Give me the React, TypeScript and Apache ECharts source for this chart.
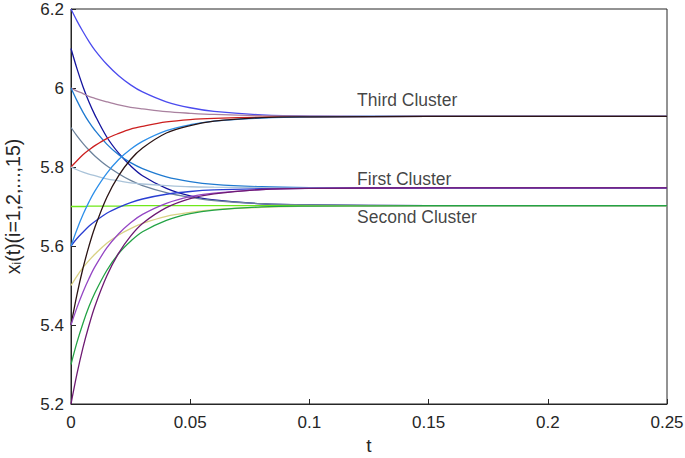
import React, { useEffect, useRef } from "react";
import * as echarts from "echarts";

const times = [0, 0.0025, 0.005, 0.0075, 0.01, 0.015, 0.02, 0.025, 0.03, 0.04, 0.05, 0.06, 0.08, 0.1, 0.15, 0.2, 0.25];

const xTicks = ["0", "0.05", "0.1", "0.15", "0.2", "0.25"];
const yTicks = ["5.2", "5.4", "5.6", "5.8", "6", "6.2"];

const agent1 = [6.2, 6.17, 6.143, 6.118, 6.096, 6.06, 6.031, 6.008, 5.99, 5.965, 5.95, 5.941, 5.932, 5.929, 5.928, 5.928, 5.928];
const agent2 = [6.1, 6.049, 6.004, 5.965, 5.932, 5.876, 5.835, 5.803, 5.778, 5.746, 5.727, 5.717, 5.707, 5.704, 5.702, 5.702, 5.702];
const agent3 = [6.0, 5.992, 5.986, 5.979, 5.974, 5.965, 5.957, 5.951, 5.947, 5.94, 5.936, 5.933, 5.93, 5.929, 5.928, 5.928, 5.928];
const agent4 = [6.0, 5.968, 5.939, 5.914, 5.893, 5.858, 5.831, 5.811, 5.796, 5.775, 5.763, 5.756, 5.75, 5.748, 5.747, 5.747, 5.747];
const agent5 = [5.9, 5.879, 5.86, 5.843, 5.828, 5.803, 5.783, 5.766, 5.753, 5.735, 5.723, 5.715, 5.707, 5.704, 5.702, 5.702, 5.702];
const agent6 = [5.8, 5.816, 5.831, 5.843, 5.854, 5.872, 5.885, 5.896, 5.903, 5.914, 5.92, 5.923, 5.926, 5.927, 5.928, 5.928, 5.928];
const agent7 = [5.8, 5.793, 5.787, 5.782, 5.778, 5.77, 5.765, 5.76, 5.757, 5.753, 5.75, 5.749, 5.748, 5.747, 5.747, 5.747, 5.747];
const agent8 = [5.7, 5.7, 5.7, 5.701, 5.701, 5.701, 5.701, 5.702, 5.702, 5.702, 5.702, 5.702, 5.702, 5.702, 5.702, 5.702, 5.702];
const agent9 = [5.6, 5.619, 5.635, 5.65, 5.662, 5.683, 5.698, 5.71, 5.719, 5.731, 5.738, 5.742, 5.745, 5.746, 5.747, 5.747, 5.747];
const agent10 = [5.6, 5.642, 5.679, 5.711, 5.739, 5.784, 5.819, 5.845, 5.865, 5.892, 5.907, 5.916, 5.924, 5.927, 5.928, 5.928, 5.928];
const agent11 = [5.5, 5.524, 5.545, 5.563, 5.579, 5.607, 5.628, 5.644, 5.657, 5.675, 5.685, 5.692, 5.698, 5.701, 5.702, 5.702, 5.702];
const agent12 = [5.4, 5.477, 5.543, 5.599, 5.647, 5.723, 5.778, 5.819, 5.848, 5.886, 5.905, 5.916, 5.925, 5.927, 5.928, 5.928, 5.928];
const agent13 = [5.4, 5.444, 5.483, 5.517, 5.547, 5.595, 5.631, 5.659, 5.68, 5.708, 5.725, 5.734, 5.743, 5.746, 5.747, 5.747, 5.747];
const agent14 = [5.3, 5.356, 5.404, 5.446, 5.481, 5.538, 5.581, 5.612, 5.636, 5.665, 5.682, 5.691, 5.699, 5.701, 5.702, 5.702, 5.702];
const agent15 = [5.2, 5.276, 5.342, 5.398, 5.447, 5.524, 5.582, 5.625, 5.657, 5.697, 5.72, 5.732, 5.743, 5.746, 5.747, 5.747, 5.747];

const agents = [agent1, agent2, agent3, agent4, agent5, agent6, agent7, agent8, agent9, agent10, agent11, agent12, agent13, agent14, agent15];
const agentColors = [
  "#4b4bee", "#14149e", "#a9819f", "#1f7ad0", "#6d839c",
  "#cc1f1f", "#aac3d9", "#6fe81a", "#2a3fd2", "#2d8fe9",
  "#d9d284", "#2b1414", "#9446c4", "#23a345", "#6e1a72",
];

const clusterLabels = ["Third Cluster", "First Cluster", "Second Cluster"];
const clusterLabelT = [0.12, 0.12, 0.12];
const clusterLabelY = [5.97, 5.77, 5.673];

const FONT = "Liberation Sans, Arial, Helvetica, sans-serif";
const INK = "#262626";

export default function App() {
  const ref = useRef<HTMLDivElement>(null);
  useEffect(() => {
    if (!ref.current) return;
    const chart = echarts.init(ref.current, undefined, { renderer: "svg" });
    const series: any[] = agents.map((vals, i) => ({
      type: "line",
      data: times.map((t, j) => [t, vals[j]]),
      showSymbol: false,
      smooth: 0.35,
      lineStyle: { color: agentColors[i], width: 1.3 },
      itemStyle: { color: agentColors[i] },
      z: 2,
    }));
    series.push({
      type: "scatter",
      symbolSize: 0,
      data: clusterLabels.map((name, i) => ({ value: [clusterLabelT[i], clusterLabelY[i]], name })),
      label: {
        show: true,
        position: "right",
        distance: 0,
        formatter: (p: any) => p.name,
        color: "#111",
        fontSize: 17.5,
        fontFamily: FONT,
      },
      z: 5,
    });
    chart.setOption({
      animation: false,
      grid: {
        left: 71,
        top: 9,
        right: 18,
        bottom: 54,
        containLabel: false,
        outerBoundsMode: "none",
        show: true,
        borderColor: INK,
        borderWidth: 1,
        backgroundColor: "#fff",
      },
      xAxis: {
        type: "value",
        min: 0,
        max: 0.25,
        interval: 0.05,
        name: "t",
        nameLocation: "middle",
        nameGap: 32,
        nameTextStyle: { fontSize: 19, color: INK, fontFamily: FONT },
        axisLine: { show: true, onZero: false, lineStyle: { color: INK } },
        axisTick: { show: true, inside: true, length: 5, lineStyle: { color: INK } },
        axisLabel: {
          fontSize: 17,
          color: INK,
          fontFamily: FONT,
          margin: 10,
          formatter: (v: number) => xTicks[Math.round(v / 0.05)] ?? "",
        },
        splitLine: { show: false },
      },
      yAxis: {
        type: "value",
        min: 5.2,
        max: 6.2,
        interval: 0.2,
        name: "{a|x}{s|i}{a|(t)(i=1,2,...,15)}",
        nameLocation: "middle",
        nameGap: 48,
        nameTextStyle: {
          color: INK,
          fontFamily: FONT,
          rich: {
            a: { fontSize: 19.5, fontFamily: FONT, color: INK },
            s: { fontSize: 12, fontFamily: FONT, color: INK, verticalAlign: "bottom", padding: [9, 0, 0, 0] },
          },
        },
        axisLine: { show: true, lineStyle: { color: INK } },
        axisTick: { show: true, inside: true, length: 5, lineStyle: { color: INK } },
        axisLabel: {
          fontSize: 17,
          color: INK,
          fontFamily: FONT,
          margin: 7,
          formatter: (v: number) => yTicks[Math.round((v - 5.2) / 0.2)] ?? "",
        },
        splitLine: { show: false },
      },
      series,
    });
    return () => chart.dispose();
  }, []);
  return (
    <div
      ref={ref}
      style={{ position: "fixed", left: 0, top: 0, width: 685, height: 458, background: "#fff" }}
    />
  );
}
